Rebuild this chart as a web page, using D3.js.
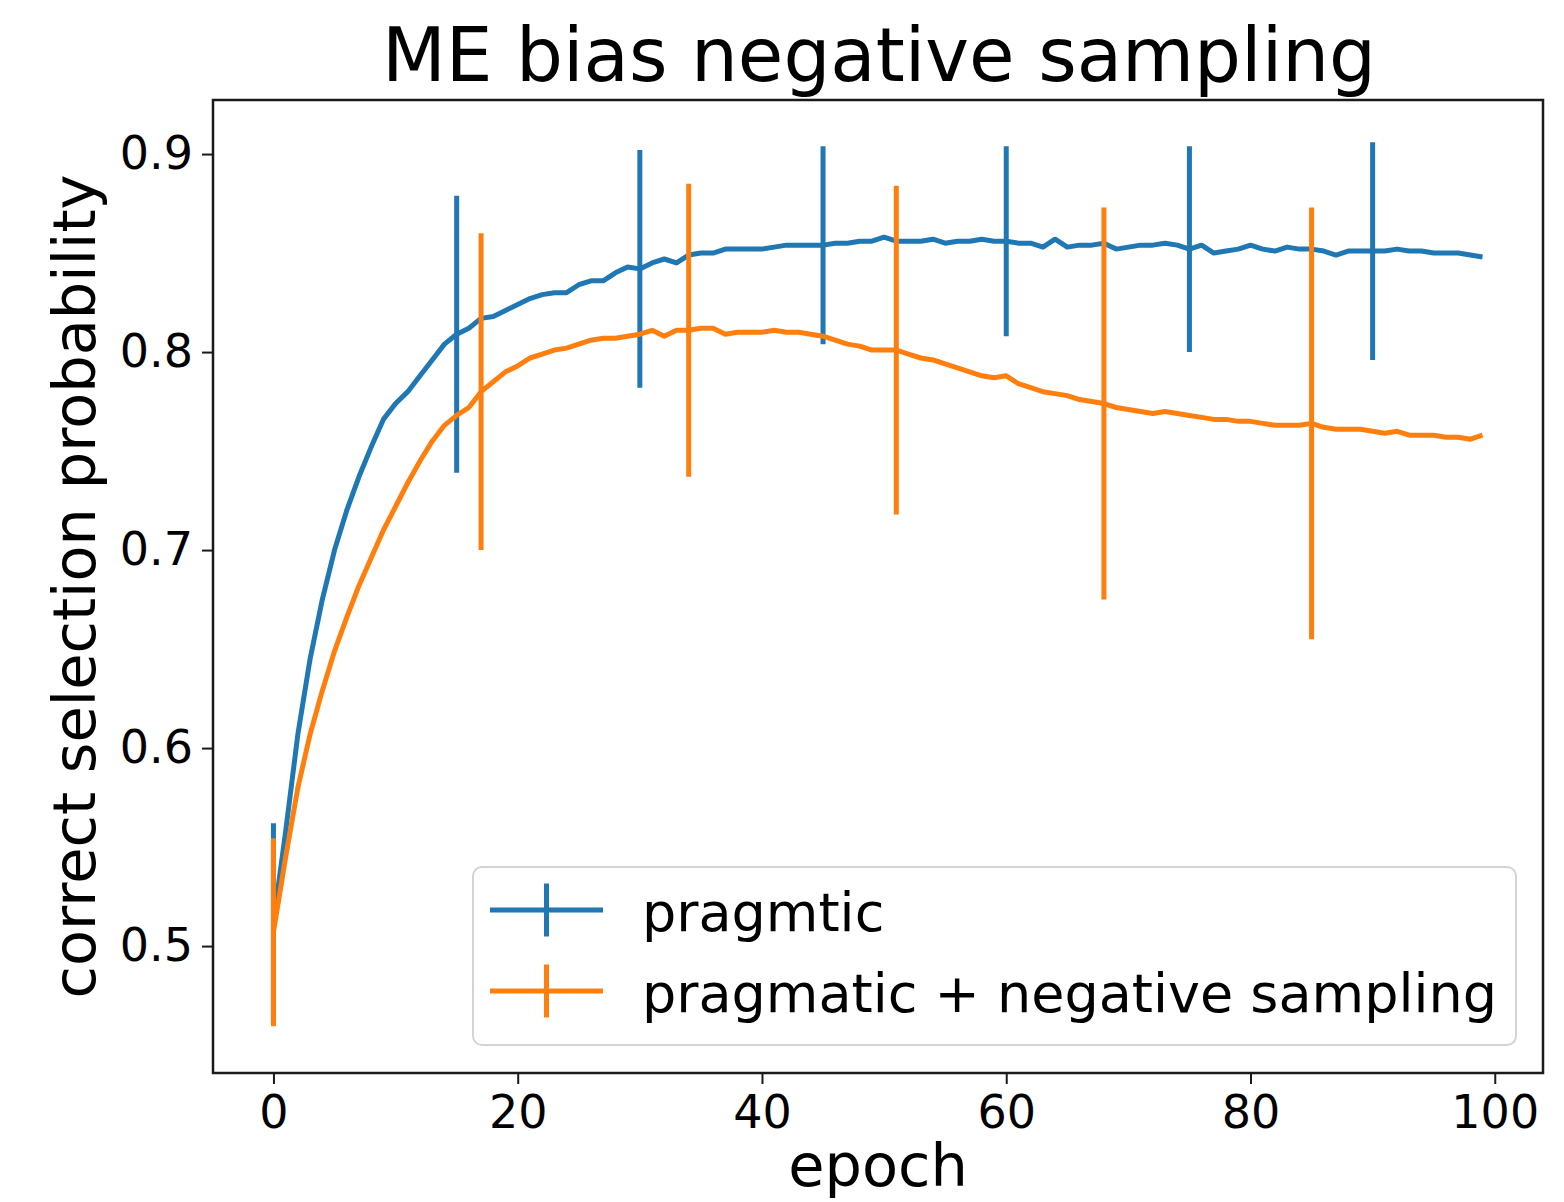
<!DOCTYPE html>
<html>
<head>
<meta charset="utf-8">
<script src="https://cdn.jsdelivr.net/npm/d3@7"></script>
<style>
  html, body { margin: 0; padding: 0; background: #fff; }
  svg { display: block; }
  text { font-family: "DejaVu Sans", sans-serif; fill: #000; }
</style>
</head>
<body>
<svg id="chart" width="1564" height="1202"></svg>
<script>
// ---- data ----
const title = "ME bias negative sampling";
const xLabel = "epoch";
const yLabel = "correct selection probability";
const seriesNames = ["pragmtic", "pragmatic + negative sampling"];
const seriesColors = ["#1f77b4", "#ff7f0e"];
const xTicks = [0, 20, 40, 60, 80, 100];
const yTicks = [0.5, 0.6, 0.7, 0.8, 0.9];

const pragmtic = [
  0.512, 0.558, 0.607, 0.645, 0.675, 0.700, 0.720, 0.737, 0.752, 0.766,
  0.774, 0.780, 0.788, 0.796, 0.804, 0.809, 0.812, 0.817, 0.818, 0.821,
  0.824, 0.827, 0.829, 0.830, 0.830, 0.834, 0.836, 0.836, 0.840, 0.843,
  0.842, 0.845, 0.847, 0.845, 0.849, 0.850, 0.850, 0.852, 0.852, 0.852,
  0.852, 0.853, 0.854, 0.854, 0.854, 0.854, 0.855, 0.855, 0.856, 0.856,
  0.858, 0.856, 0.856, 0.856, 0.857, 0.855, 0.856, 0.856, 0.857, 0.856,
  0.856, 0.855, 0.855, 0.853, 0.857, 0.853, 0.854, 0.854, 0.855, 0.852,
  0.853, 0.854, 0.854, 0.855, 0.854, 0.852, 0.854, 0.850, 0.851, 0.852,
  0.854, 0.852, 0.851, 0.853, 0.852, 0.852, 0.851, 0.849, 0.851, 0.851,
  0.851, 0.851, 0.852, 0.851, 0.851, 0.850, 0.850, 0.850, 0.849, 0.848
];
const negSampling = [
  0.507, 0.545, 0.580, 0.607, 0.629, 0.649, 0.666, 0.682, 0.696, 0.710,
  0.722, 0.734, 0.745, 0.755, 0.763, 0.768, 0.772, 0.780, 0.785, 0.790,
  0.793, 0.797, 0.799, 0.801, 0.802, 0.804, 0.806, 0.807, 0.807, 0.808,
  0.809, 0.811, 0.808, 0.811, 0.811, 0.812, 0.812, 0.809, 0.810, 0.810,
  0.810, 0.811, 0.810, 0.810, 0.809, 0.808, 0.806, 0.804, 0.803, 0.801,
  0.801, 0.801, 0.799, 0.797, 0.796, 0.794, 0.792, 0.790, 0.788, 0.787,
  0.788, 0.784, 0.782, 0.780, 0.779, 0.778, 0.776, 0.775, 0.774, 0.772,
  0.771, 0.770, 0.769, 0.770, 0.769, 0.768, 0.767, 0.766, 0.766, 0.765,
  0.765, 0.764, 0.763, 0.763, 0.763, 0.764, 0.762, 0.761, 0.761, 0.761,
  0.760, 0.759, 0.760, 0.758, 0.758, 0.758, 0.757, 0.757, 0.756, 0.758
];
const pragmticErrEpochs = [0, 15, 30, 45, 60, 75, 90];
const pragmticErr = [0.050, 0.070, 0.060, 0.050, 0.048, 0.052, 0.055];
const negErrEpochs = [0, 17, 34, 51, 68, 85];
const negErr = [0.0475, 0.080, 0.074, 0.083, 0.099, 0.109];

// ---- layout ----
const W = 1564, H = 1202;
const plot = { left: 213, right: 1543, top: 100, bottom: 1073 };

const svg = d3.select("#chart");
const x = d3.scaleLinear().domain([-4.95, 103.95]).range([plot.left, plot.right]);
const y = d3.scaleLinear().domain([0.4359, 0.9273]).range([plot.bottom, plot.top]);

const series = [
  { name: seriesNames[0], values: pragmtic, errX: pragmticErrEpochs, err: pragmticErr, color: seriesColors[0] },
  { name: seriesNames[1], values: negSampling, errX: negErrEpochs, err: negErr, color: seriesColors[1] }
];

const clipId = "plotclip";
svg.append("clipPath").attr("id", clipId).append("rect")
  .attr("x", plot.left).attr("y", plot.top)
  .attr("width", plot.right - plot.left).attr("height", plot.bottom - plot.top);

const line = d3.line().x((d, i) => x(i)).y(d => y(d));
const g = svg.append("g").attr("clip-path", `url(#${clipId})`);

series.forEach(s => {
  g.append("path").datum(s.values)
    .attr("d", line)
    .attr("fill", "none")
    .attr("stroke", s.color)
    .attr("stroke-width", 5)
    .attr("stroke-linejoin", "round");
  g.selectAll(null).data(s.errX.map((e, i) => ({ e, v: s.values[e], err: s.err[i] })))
    .enter().append("line")
    .attr("x1", d => x(d.e)).attr("x2", d => x(d.e))
    .attr("y1", d => y(d.v - d.err)).attr("y2", d => y(d.v + d.err))
    .attr("stroke", s.color)
    .attr("stroke-width", 5);
});

// ---- axes ----
const axisColor = "#1a1a1a";
const xAxis = svg.append("g").attr("transform", `translate(0,${plot.bottom})`)
  .call(d3.axisBottom(x).tickValues(xTicks).tickSize(11).tickPadding(8).tickFormat(d3.format("d")));
const yAxis = svg.append("g").attr("transform", `translate(${plot.left},0)`)
  .call(d3.axisLeft(y).tickValues(yTicks).tickSize(11).tickPadding(9).tickFormat(d3.format(".1f")));
[xAxis, yAxis].forEach(a => {
  a.select(".domain").remove();
  a.selectAll(".tick line").attr("stroke", axisColor).attr("stroke-width", 2);
  a.selectAll(".tick text").attr("font-family", "DejaVu Sans").attr("font-size", 46).attr("fill", "#000");
});
xAxis.selectAll(".tick text").attr("dy", null).attr("y", 55);

// frame
svg.append("rect")
  .attr("x", plot.left).attr("y", plot.top)
  .attr("width", plot.right - plot.left).attr("height", plot.bottom - plot.top)
  .attr("fill", "none").attr("stroke", axisColor).attr("stroke-width", 2.5);

// ---- titles ----
svg.append("text").attr("x", 879).attr("y", 81)
  .attr("text-anchor", "middle").attr("font-size", 74).text(title);
svg.append("text").attr("x", 878).attr("y", 1186)
  .attr("text-anchor", "middle").attr("font-size", 59).text(xLabel);
svg.append("text")
  .attr("transform", `translate(95,${(plot.top + plot.bottom) / 2}) rotate(-90)`)
  .attr("text-anchor", "middle").attr("font-size", 59).text(yLabel);

// ---- legend ----
const leg = svg.append("g");
leg.append("rect")
  .attr("x", 473).attr("y", 867).attr("width", 1043).attr("height", 178)
  .attr("rx", 9).attr("ry", 9)
  .attr("fill", "#fff").attr("fill-opacity", 0.8)
  .attr("stroke", "#d4d4d4").attr("stroke-width", 2);
const legRows = [910, 991];
series.forEach((s, i) => {
  const cy = legRows[i];
  leg.append("line").attr("x1", 490).attr("x2", 603).attr("y1", cy).attr("y2", cy)
    .attr("stroke", s.color).attr("stroke-width", 5);
  leg.append("line").attr("x1", 546.5).attr("x2", 546.5).attr("y1", cy - 26.5).attr("y2", cy + 26.5)
    .attr("stroke", s.color).attr("stroke-width", 5);
  leg.append("text").attr("x", 642).attr("y", cy + 21)
    .attr("font-size", 54).text(s.name);
});
</script>
</body>
</html>
